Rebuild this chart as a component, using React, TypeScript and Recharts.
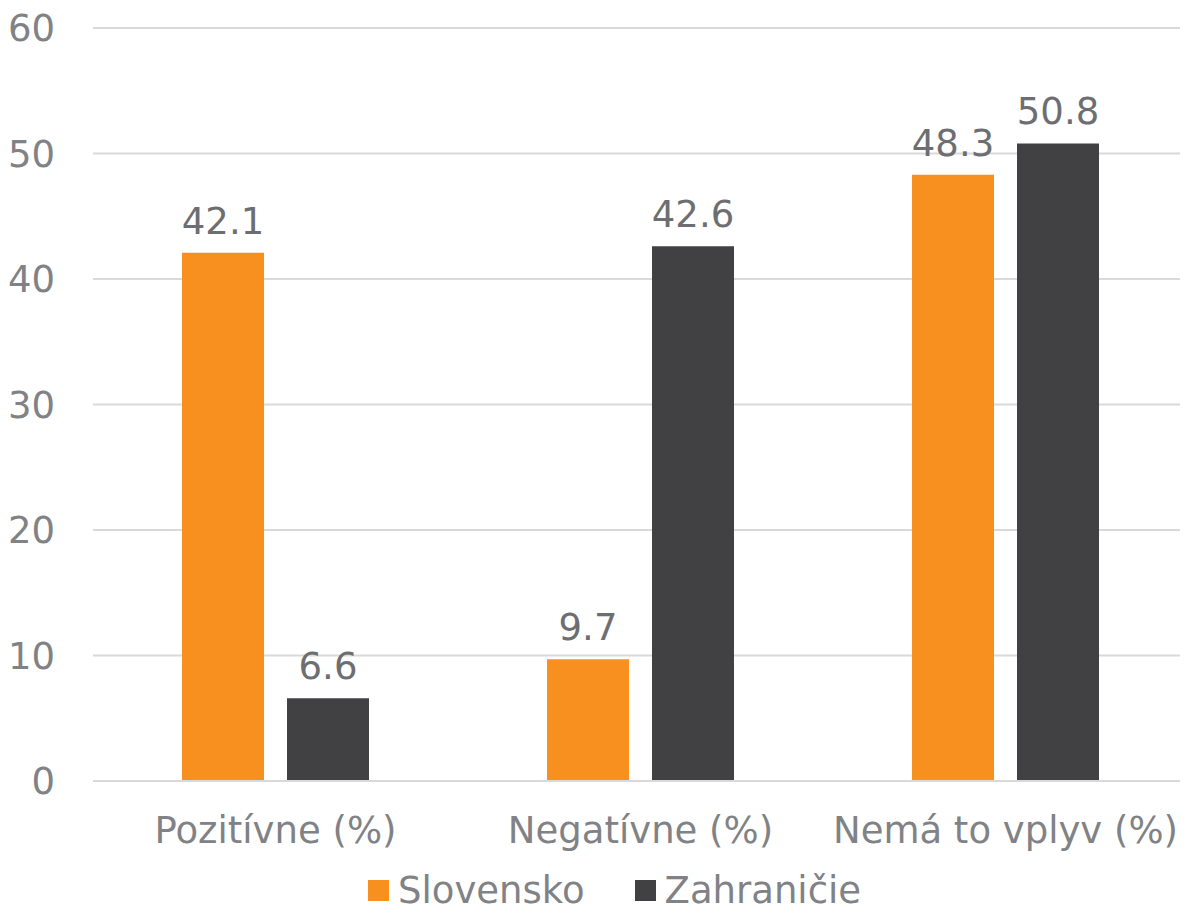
import React from "react";
import { BarChart, Bar, XAxis, YAxis, CartesianGrid, Legend, LabelList } from "recharts";

const categories = ["Pozitívne (%)", "Negatívne (%)", "Nemá to vplyv (%)"];
const slovensko = [42.1, 9.7, 48.3];
const zahranicie = [6.6, 42.6, 50.8];
const yTicks = [0, 10, 20, 30, 40, 50, 60];
const seriesNames = ["Slovensko", "Zahraničie"];
const colors = ["#F7901E", "#414042"];

const data = categories.map((c, i) => ({ name: c, s: slovensko[i], z: zahranicie[i] }));

const FONT = "'DejaVu Sans', Verdana, sans-serif";

const LegendContent = () => (
  <div style={{ height: 57, display: "flex", alignItems: "center", paddingLeft: 368, fontFamily: FONT, fontSize: 37, color: "#808285", boxSizing: "border-box" }}>
    {seriesNames.map((n, i) => (
      <div key={n} style={{ display: "flex", alignItems: "center", marginRight: i === 0 ? 50 : 0 }}>
        <div style={{ width: 21, height: 21, background: colors[i], marginRight: 9 }} />
        <span style={{ lineHeight: "57px" }}>{n}</span>
      </div>
    ))}
  </div>
);

export default function App() {
  return (
    <div style={{ marginLeft: -8, marginTop: -8, width: 1188, height: 919, background: "#fff" }}>
      <BarChart width={1188} height={919} data={data} margin={{ top: 28, right: 0, bottom: 0, left: 0 }} barSize={82} barGap={23}>
        <CartesianGrid vertical={false} stroke="#D9D9D9" strokeWidth={2} />
        <XAxis dataKey="name" height={81} tickLine={false} axisLine={{ stroke: "#D9D9D9", strokeWidth: 2 }} tickMargin={30}
          tick={{ fill: "#808285", fontSize: 37, fontFamily: FONT }} interval={0} />
        <YAxis width={93} domain={[0, 60]} ticks={yTicks} axisLine={false} tickLine={false} tickMargin={32}
          tick={{ fill: "#808285", fontSize: 37, fontFamily: FONT }} />
        <Legend verticalAlign="bottom" content={<LegendContent />} />
        <Bar dataKey="s" name={seriesNames[0]} fill={colors[0]} isAnimationActive={false}>
          <LabelList dataKey="s" position="top" offset={19} fill="#6D6E71" fontSize={37} fontFamily={FONT} />
        </Bar>
        <Bar dataKey="z" name={seriesNames[1]} fill={colors[1]} isAnimationActive={false}>
          <LabelList dataKey="z" position="top" offset={19} fill="#6D6E71" fontSize={37} fontFamily={FONT} />
        </Bar>
      </BarChart>
    </div>
  );
}
